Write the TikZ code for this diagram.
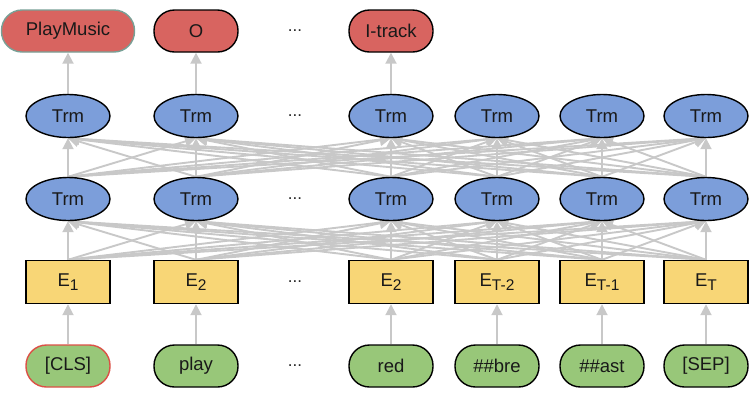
\documentclass[tikz,border=0pt]{standalone}
\usepackage{fontspec}
\setmainfont{Liberation Sans}
\usetikzlibrary{shapes.geometric,arrows.meta,backgrounds}
\definecolor{cred}{RGB}{216,100,96}
\definecolor{cblue}{RGB}{124,158,218}
\definecolor{cyel}{RGB}{248,214,118}
\definecolor{cgreen}{RGB}{152,199,121}
\definecolor{cedge}{RGB}{200,200,200}
\definecolor{cteal}{RGB}{120,160,150}
\definecolor{cclsb}{RGB}{220,80,70}
\newcommand{\sub}[1]{\raisebox{-4.5pt}{\fontsize{15.5}{16}\selectfont #1}}
\tikzset{
  base/.style={draw=black,line width=1.4pt,inner sep=0pt,font=\fontsize{18.5}{20}\selectfont,text=black!90},
  outbox/.style={base,fill=cred,rounded corners=20.5pt,minimum height=42pt,minimum width=84pt},
  trm/.style={base,fill=cblue,ellipse,minimum width=84pt,minimum height=43pt},
  emb/.style={base,fill=cyel,rectangle,minimum width=84pt,minimum height=43pt},
  tok/.style={base,fill=cgreen,rounded corners=20.5pt,minimum height=42pt,minimum width=84pt},
  dots/.style={font=\fontsize{17}{19}\selectfont,text=black!85},
  conn/.style={draw=cedge,line width=1.9pt,-{Triangle[width=11pt,length=11pt]}}
}
\begin{document}
\begin{tikzpicture}[x=1pt,y=-1pt]
\useasboundingbox (0,0) rectangle (750,400);
% output row
\node[outbox,minimum width=133pt,draw=cteal] (o1) at (68,31) {PlayMusic};
\node[outbox] (o2) at (196,31) {O};
\node[dots] (od) at (295,31) {...};
\node[outbox] (o4) at (391,31) {I-track};
% Trm layer 2 (top)
\node[trm] (b1) at (68,116) {Trm};
\node[trm] (b2) at (196,116) {Trm};
\node[dots] (bd) at (295,116) {...};
\node[trm] (b4) at (391,116) {Trm};
\node[trm] (b5) at (497,116) {Trm};
\node[trm] (b6) at (602,116) {Trm};
\node[trm] (b7) at (706,116) {Trm};
% Trm layer 1
\node[trm] (a1) at (68,199) {Trm};
\node[trm] (a2) at (196,199) {Trm};
\node[dots] (ad) at (295,199) {...};
\node[trm] (a4) at (391,199) {Trm};
\node[trm] (a5) at (497,199) {Trm};
\node[trm] (a6) at (602,199) {Trm};
\node[trm] (a7) at (706,199) {Trm};
% embeddings
\node[emb] (e1) at (68,282) {E\sub{1}};
\node[emb] (e2) at (196,282) {E\sub{2}};
\node[dots] (ed) at (295,282) {...};
\node[emb] (e4) at (391,282) {E\sub{2}};
\node[emb] (e5) at (497,282) {E\sub{T-2}};
\node[emb] (e6) at (602,282) {E\sub{T-1}};
\node[emb] (e7) at (706,282) {E\sub{T}};
% tokens
\node[tok,draw=cclsb] (t1) at (68,366) {[CLS]};
\node[tok] (t2) at (196,366) {play};
\node[dots] (td) at (295,366) {...};
\node[tok] (t4) at (391,366) {red};
\node[tok] (t5) at (497,366) {\#\#bre};
\node[tok] (t6) at (602,366) {\#\#ast};
\node[tok] (t7) at (706,366) {[SEP]};
\begin{scope}[on background layer]
\foreach \i in {1,2,4,5,6,7}{
  \draw[conn] (t\i.north) -- (e\i.south);
  \foreach \j in {1,2,4,5,6,7}{
    \draw[conn] (e\i.north) -- (a\j.south);
    \draw[conn] (a\i.north) -- (b\j.south);
  }
}
\draw[conn] (b1.north) -- (o1.south);
\draw[conn] (b2.north) -- (o2.south);
\draw[conn] (b4.north) -- (o4.south);
\end{scope}
\end{tikzpicture}
\end{document}
